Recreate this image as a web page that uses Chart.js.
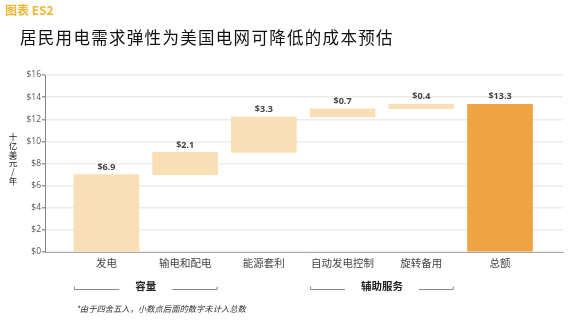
<!DOCTYPE html>
<html><head><meta charset="utf-8">
<script src="https://cdn.jsdelivr.net/npm/chart.js@4.4.1/dist/chart.umd.min.js"></script>
<style>
html,body{margin:0;padding:0;background:#fff;}
#wrap{position:relative;width:576px;height:324px;overflow:hidden;}
canvas{position:absolute;left:0;top:0;}
.t{position:absolute;white-space:nowrap;font-family:"Noto Sans CJK SC","Noto Sans",sans-serif;}
#fig{left:5px;top:1px;font-size:12px;color:#f2b632;font-weight:700;}
#title{left:20px;top:25px;font-size:16.5px;color:#111;letter-spacing:1.3px;}
#ytitle{left:7px;top:132px;width:12px;font-size:8.5px;color:#222;text-align:center;}
#ytitle span{display:block;line-height:8.8px;height:8.8px;}
#note{left:76px;top:302px;font-size:8.3px;color:#333;font-style:italic;}
</style></head>
<body><div id="wrap">
<canvas id="c" width="576" height="324"></canvas>
<div class="t" id="fig">图表 ES2</div>
<div class="t" id="title">居民用电需求弹性为美国电网可降低的成本预估</div>
<div class="t" id="ytitle"></div>
<div class="t" id="note">*由于四舍五入，小数点后面的数字未计入总数</div>
</div>
<script>
const categories = ['发电','输电和配电','能源套利','自动发电控制','旋转备用','总额'];
const barStart = [0, 7.0, 9.0, 12.2, 12.95, 0];
const barEnd   = [7.0, 9.0, 12.2, 12.95, 13.35, 13.35];
const valueLabels = ['$6.9','$2.1','$3.3','$0.7','$0.4','$13.3'];
const isTotal = [false,false,false,false,false,true];
const yTicks = [0,2,4,6,8,10,12,14,16];
const yTitle = '十亿美元/年';
const groups = [
  {label:'容量', from:0, to:1},
  {label:'辅助服务', from:3, to:4}
];

const yt = document.getElementById('ytitle');
Array.from(yTitle).forEach(ch=>{ const s=document.createElement('span'); s.textContent=ch; yt.appendChild(s); });

const data = categories.map((c,i)=>({x:i, y:[barStart[i], barEnd[i]]}));

const labelPlugin = {
  id:'labels',
  afterDatasetsDraw(chart){
    const ctx = chart.ctx;
    const meta = chart.getDatasetMeta(0);
    ctx.save();
    ctx.font = '700 9px "Open Sans", sans-serif';
    ctx.fillStyle = '#444';
    ctx.textAlign = 'center';
    ctx.textBaseline = 'middle';
    meta.data.forEach((bar,i)=>{
      ctx.fillText(valueLabels[i], bar.x, bar.y - 7.5);
    });
    const yLine = 289.5;
    groups.forEach(g=>{
      const b1 = meta.data[g.from], b2 = meta.data[g.to];
      const left = b1.x - b1.width/2, right = b2.x + b2.width/2;
      const mid = (left+right)/2;
      ctx.font = '700 10.5px "Noto Sans CJK SC", sans-serif';
      ctx.fillStyle = '#222';
      const tw = ctx.measureText(g.label).width;
      const gap = 16;
      ctx.strokeStyle = '#888';
      ctx.lineWidth = 1;
      ctx.beginPath();
      ctx.moveTo(left+0.5, yLine-3);
      ctx.lineTo(left+0.5, yLine);
      ctx.lineTo(mid - tw/2 - gap, yLine);
      ctx.moveTo(mid + tw/2 + gap, yLine);
      ctx.lineTo(right-0.5, yLine);
      ctx.lineTo(right-0.5, yLine-3);
      ctx.stroke();
      ctx.fillText(g.label, mid, yLine - 3.5);
    });
    ctx.restore();
  }
};

new Chart(document.getElementById('c'), {
  type:'bar',
  data:{
    datasets:[{
      data: data,
      backgroundColor: isTotal.map(t => t ? '#eea443' : '#f9dfb6'),
      borderWidth:0,
      barThickness:65
    }]
  },
  options:{
    responsive:false,
    animation:false,
    layout:{padding:{top:75,right:13,left:0,bottom:0}},
    plugins:{legend:{display:false},tooltip:{enabled:false}},
    scales:{
      x:{
        type:'linear',
        offset:false,
        min:-0.78, max:5.8,
        afterBuildTicks(scale){ scale.ticks = categories.map((c,i)=>({value:i})); },
        afterFit(scale){ scale.height = 72; },
        grid:{display:false, drawTicks:false, offset:false},
        border:{display:true,color:'#aaa',width:1},
        ticks:{
          autoSkip:false, maxRotation:0, padding:5,
          color:'#444',
          font:{family:'"Noto Sans CJK SC", sans-serif', size:10.5},
          callback:(v)=>categories[v]
        }
      },
      y:{
        min:0, max:16,
        afterBuildTicks(scale){ scale.ticks = yTicks.map(v=>({value:v})); },
        afterFit(scale){ scale.width = 45; },
        grid:{color:'#ececec', lineWidth:1.5, tickLength:3, tickColor:'#999'},
        border:{display:true,color:'#888',width:1},
        ticks:{
          padding:1, color:'#555',
          font:{family:'"Open Sans", sans-serif', size:8.5},
          callback:(v)=>'$'+v
        }
      }
    }
  },
  plugins:[labelPlugin]
});
</script>
</body></html>
